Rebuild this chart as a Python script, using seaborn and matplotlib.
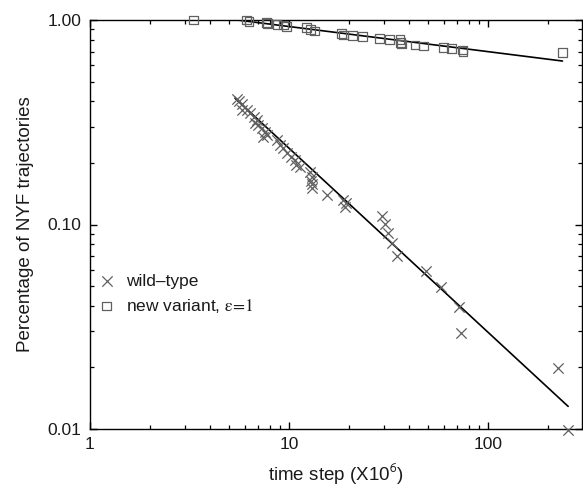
import numpy as np
import pandas as pd
import matplotlib
matplotlib.use("Agg")
import matplotlib.pyplot as plt
import seaborn as sns
from matplotlib.ticker import LogLocator, FixedLocator, FixedFormatter, NullFormatter

# ---- data ----
wt_x = [5.5, 5.63, 5.78, 5.78, 6.12, 6.37, 6.67, 6.75, 6.88, 7.01, 7.28, 7.42, 7.57, 7.78,
        8.67, 9.01, 9.36, 9.73, 10.2, 10.7, 10.9, 11.4, 12.8, 13.0, 12.9, 13.1, 13.0,
        15.5, 18.7, 19.1, 19.4, 29.2, 30.4, 31.6, 32.8, 35.0, 49.1, 57.8, 71.5, 72.8, 224, 253]
wt_y = [0.41, 0.40, 0.39, 0.363, 0.363, 0.35, 0.337, 0.313, 0.324, 0.307, 0.295, 0.269, 0.284, 0.274,
        0.259, 0.245, 0.236, 0.223, 0.215, 0.207, 0.195, 0.192, 0.181, 0.171, 0.164, 0.158, 0.150,
        0.139, 0.132, 0.122, 0.127, 0.110, 0.101, 0.0906, 0.081, 0.070, 0.0594, 0.0497, 0.0396, 0.0296, 0.0198, 0.0099]

nv_x = [3.3, 6.1, 6.3, 7.7, 7.8, 8.7, 9.4, 9.7, 12.3, 12.8, 13.4, 18.4, 18.8, 20.8, 23.5,
        28.5, 31.9, 36.1, 36.4, 36.8, 43.0, 47.3, 60.0, 65.7, 74.5, 75.0, 237]
nv_y = [1.0, 1.0, 0.98, 0.97, 0.965, 0.953, 0.945, 0.93, 0.917, 0.90, 0.884, 0.861, 0.845, 0.838, 0.829,
        0.814, 0.805, 0.80, 0.775, 0.763, 0.755, 0.746, 0.735, 0.727, 0.714, 0.70, 0.695]

# power-law fit lines (end points)
wt_fit_x = [5.36, 253]
wt_fit_y = [0.414, 0.0129]
nv_fit_x = [5.5, 237]
nv_fit_y = [1.0, 0.63]

x_ticks = [1, 10, 100]
x_tick_labels = ["1", "10", "100"]
y_ticks = [0.01, 0.1, 1.0]
y_tick_labels = ["0.01", "0.10", "1.00"]

# ---- style ----
sns.set_theme(style="white")
plt.rcParams["font.family"] = ["Liberation Sans", "DejaVu Sans"]
plt.rcParams["mathtext.fontset"] = "stix"

fig = plt.figure(figsize=(5.83, 4.91), dpi=100)
ax = fig.add_axes([90 / 583, 1 - 429 / 491, 492 / 583, 409 / 491])

pt_color = "#606060"

sns.lineplot(x=wt_fit_x, y=wt_fit_y, ax=ax, color="black", linewidth=1.2, legend=False)
sns.lineplot(x=nv_fit_x, y=nv_fit_y, ax=ax, color="black", linewidth=1.2, legend=False)

sns.scatterplot(x=wt_x, y=wt_y, ax=ax, marker="x", color=pt_color, s=55, linewidth=0.9,
                label="wild\u2013type", zorder=3, clip_on=False)
sns.scatterplot(x=nv_x, y=nv_y, ax=ax, marker="s", facecolors="none", edgecolor=pt_color,
                s=40, linewidth=0.9, label=r"new variant, $\mathrm{\varepsilon}\!=\!1$", zorder=3,
                clip_on=False)

ax.set_xscale("log")
ax.set_yscale("log")
ax.set_xlim(1, 297)
ax.set_ylim(0.01, 1.0)

ax.xaxis.set_major_locator(FixedLocator(x_ticks))
ax.xaxis.set_major_formatter(FixedFormatter(x_tick_labels))
ax.yaxis.set_major_locator(FixedLocator(y_ticks))
ax.yaxis.set_major_formatter(FixedFormatter(y_tick_labels))
ax.xaxis.set_minor_locator(LogLocator(base=10, subs=np.arange(2, 10)))
ax.yaxis.set_minor_locator(LogLocator(base=10, subs=np.arange(2, 10)))
ax.xaxis.set_minor_formatter(NullFormatter())
ax.yaxis.set_minor_formatter(NullFormatter())

ax.tick_params(which="both", direction="in", top=True, right=True, bottom=True, left=True,
               color="black", labelsize=12.5, labelcolor="#1a1a1a")
ax.tick_params(which="major", length=5, width=1)
ax.tick_params(which="minor", length=3, width=0.9)
ax.tick_params(axis="x", pad=6)
ax.tick_params(axis="y", pad=6)

for sp in ax.spines.values():
    sp.set_visible(True)
    sp.set_color("black")
    sp.set_linewidth(1.0)

ax.set_xlabel(r"time step (X10$^{\mathsf{6}}$)", fontsize=13.5, color="#1a1a1a", labelpad=6)
ax.set_ylabel("Percentage of NYF trajectories", fontsize=13.5, color="#1a1a1a", labelpad=10)

leg = ax.legend(loc="center left", bbox_to_anchor=(-0.005, 0.33), frameon=False,
                fontsize=12.5, handlelength=1.0, handletextpad=0.6, labelspacing=0.45,
                borderaxespad=0.2)
for t in leg.get_texts():
    t.set_color("#1a1a1a")

fig.savefig("out.png", dpi=100)
